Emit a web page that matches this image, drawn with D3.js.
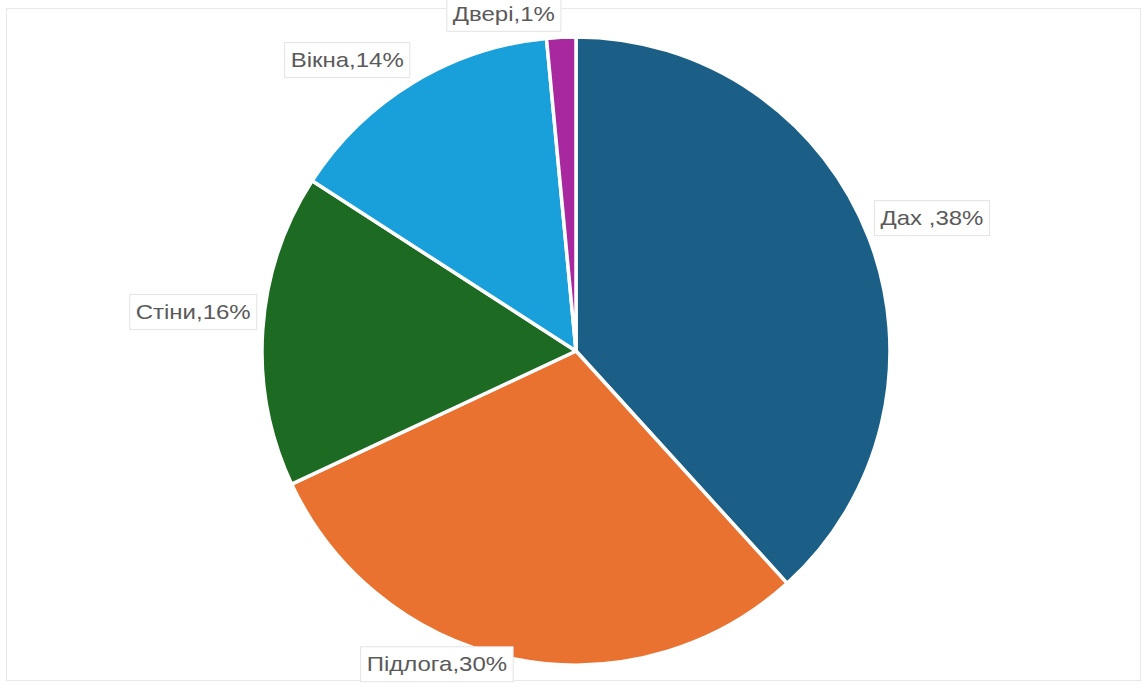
<!DOCTYPE html>
<html>
<head>
<meta charset="utf-8">
<script src="https://cdn.jsdelivr.net/npm/d3@7"></script>
<style>
  body { margin: 0; background: #fff; }
  text { font-family: "Liberation Sans", Arial, sans-serif; }
</style>
</head>
<body>
<script>
"use strict";

const categories = ["Дах", "Підлога", "Стіни", "Вікна", "Двері"];
const values = [38.3, 29.8, 16.1, 14.4, 1.5];
const labels = ["Дах ,38%", "Підлога,30%", "Стіни,16%", "Вікна,14%", "Двері,1%"];
const colors = ["#1b5f87", "#ea7231", "#1d6b22", "#199fd9", "#a8289f"];

const width = 1144, height = 689;
const cx = 576, cy = 351, radius = 314;

let svg = d3
  .select("body")
  .append("svg")
  .attr("width", width)
  .attr("height", height);

svg.append("rect")
  .attr("x", 6.5)
  .attr("y", 8.5)
  .attr("width", 1134)
  .attr("height", 672)
  .attr("fill", "none")
  .attr("stroke", "#e8e8e8");

const pie = d3.pie().sort(null).value(d => d);
const arc = d3.arc().innerRadius(0).outerRadius(radius);
const arcs = pie(values);

let g = svg.append("g").attr("transform", `translate(${cx},${cy})`);

g.selectAll("path")
  .data(arcs)
  .enter()
  .append("path")
  .attr("d", arc)
  .attr("fill", (d, i) => colors[i])
  .attr("stroke", "#fff")
  .attr("stroke-width", 3.5)
  .attr("stroke-linejoin", "round");

// labels: box corner sits at a point just outside the slice's mid angle
let labelG = g.selectAll("g.label")
  .data(arcs)
  .enter()
  .append("g")
  .attr("class", "label");

const stretch = 1.2; // reference glyphs are a bit wider than Arial

labelG.each(function(d, i) {
  const sel = d3.select(this);
  const mid = (d.startAngle + d.endAngle) / 2;
  const r = radius + 6;
  const px = Math.sin(mid) * r;
  const py = -Math.cos(mid) * r;
  const text = sel.append("text")
    .attr("font-size", 20)
    .attr("fill", "#5a5a5a")
    .text(labels[i]);
  const w = text.node().getComputedTextLength() * stretch;
  const padX = 6, boxH = 35;
  const bw = w + padX * 2;
  const bx = px >= 0 ? px : px - bw;
  const by = py < 0 ? py - boxH : py - 18;
  sel.insert("rect", "text")
    .attr("x", bx)
    .attr("y", by)
    .attr("width", bw)
    .attr("height", boxH)
    .attr("fill", "#fff")
    .attr("stroke", "#e3e3e3");
  text.attr("transform", `translate(${bx + padX},${by + boxH / 2 + 7}) scale(${stretch},1)`);
});
</script>
</body>
</html>
